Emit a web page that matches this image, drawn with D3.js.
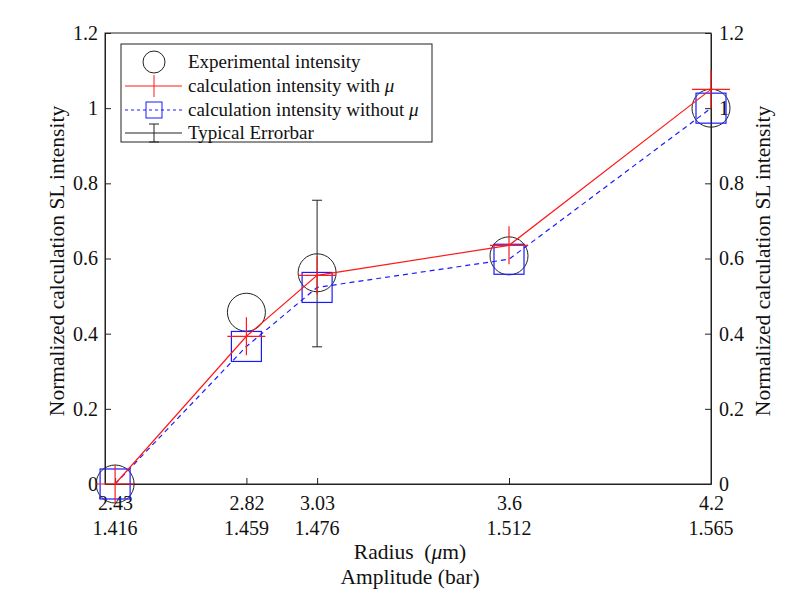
<!DOCTYPE html>
<html><head><meta charset="utf-8">
<script src="https://cdn.jsdelivr.net/npm/d3@7"></script>
<style>body{margin:0;background:#fff}</style>
</head><body><svg id="c" width="809" height="606"></svg>
<script>
const radius = [2.43, 2.82, 3.03, 3.6, 4.2];
const radiusLabels = ["2.43", "2.82", "3.03", "3.6", "4.2"];
const amplitudeLabels = ["1.416", "1.459", "1.476", "1.512", "1.565"];
const experimental = [0, 0.457, 0.562, 0.607, 1.0];
const withMu = [0, 0.393, 0.555, 0.635, 1.05];
const withoutMu = [0, 0.366, 0.523, 0.598, 1.0];
const errX = 3.03, errMid = 0.56, errHalf = 0.195;
const yTicks = [0, 0.2, 0.4, 0.6, 0.8, 1, 1.2];

const svg = d3.select("#c");
const L = 105, R = 711, T = 33, B = 484;
const x = d3.scaleLinear().domain([2.4, 4.2]).range([L, R]);
const y = d3.scaleLinear().domain([0, 1.2]).range([B, T]);
const ax = "#222";
const fs = 20, fsT = 21.5, fsL = 19;
const ff = "Liberation Serif";

// frame
svg.append("rect").attr("x", L).attr("y", T).attr("width", R - L).attr("height", B - T)
  .attr("fill", "none").attr("stroke", ax).attr("stroke-width", 1);

// axes
const fmt = d => d === 0 ? "0" : (d === 1 ? "1" : d3.format(".1f")(d));
const left = svg.append("g").attr("transform", `translate(${L},0)`)
  .call(d3.axisLeft(y).tickValues(yTicks).tickSizeInner(-6).tickSizeOuter(0).tickPadding(7).tickFormat(fmt));
const right = svg.append("g").attr("transform", `translate(${R},0)`)
  .call(d3.axisRight(y).tickValues(yTicks).tickSizeInner(-6).tickSizeOuter(0).tickPadding(8).tickFormat(fmt));
const bottom = svg.append("g").attr("transform", `translate(0,${B})`)
  .call(d3.axisBottom(x).tickValues(radius).tickSizeInner(-6).tickSizeOuter(0).tickPadding(12)
    .tickFormat((d, i) => radiusLabels[i]));
[left, right, bottom].forEach(g => {
  g.attr("font-family", ff).attr("font-size", fs);
  g.select(".domain").attr("stroke", ax);
  g.selectAll(".tick line").attr("stroke", ax);
  g.selectAll("text").attr("font-family", ff).attr("font-size", fs).attr("fill", "#111");
});
// amplitude row
svg.append("g").selectAll("text").data(radius).join("text")
  .attr("x", d => x(d)).attr("y", 535).attr("text-anchor", "middle").attr("font-family", ff)
  .attr("font-size", fs).attr("fill", "#111").text((d, i) => amplitudeLabels[i]);

// axis titles
const t1 = svg.append("text").attr("x", 410).attr("y", 559).attr("text-anchor", "middle").attr("font-family", ff).attr("font-size", fsT).attr("fill", "#111");
t1.append("tspan").text("Radius\u00a0\u00a0(");
t1.append("tspan").attr("font-style", "italic").text("\u03bc");
t1.append("tspan").text("m)");
svg.append("text").attr("x", 410).attr("y", 584).attr("text-anchor", "middle").attr("font-family", ff).attr("font-size", fsT).attr("fill", "#111").text("Amplitude (bar)");
svg.append("text").attr("transform", `translate(64,261) rotate(-90)`).attr("text-anchor", "middle").attr("font-family", ff)
  .attr("font-size", fsT).attr("fill", "#111").text("Normalized calculation SL intensity");
svg.append("text").attr("transform", `translate(770,261) rotate(-90)`).attr("text-anchor", "middle").attr("font-family", ff)
  .attr("font-size", fsT).attr("fill", "#111").text("Normalized calculation SL intensity");

const line = d3.line().x(d => x(d[0])).y(d => y(d[1]));
const red = "#ff1a1a", blue = "#1a1aff";

// experimental circles
svg.append("g").selectAll("circle").data(radius).join("circle")
  .attr("cx", d => x(d)).attr("cy", (d, i) => y(experimental[i])).attr("r", 19)
  .attr("fill", "none").attr("stroke", ax).attr("stroke-width", 1);

// error bar
const eg = svg.append("g").attr("stroke", ax).attr("stroke-width", 1);
eg.append("line").attr("x1", x(errX)).attr("x2", x(errX)).attr("y1", y(errMid - errHalf)).attr("y2", y(errMid + errHalf));
eg.append("line").attr("x1", x(errX) - 5).attr("x2", x(errX) + 5).attr("y1", y(errMid - errHalf)).attr("y2", y(errMid - errHalf));
eg.append("line").attr("x1", x(errX) - 5).attr("x2", x(errX) + 5).attr("y1", y(errMid + errHalf)).attr("y2", y(errMid + errHalf));

// without mu (blue dashed + squares)
svg.append("path").datum(radius.map((d, i) => [d, withoutMu[i]])).attr("d", line)
  .attr("fill", "none").attr("stroke", blue).attr("stroke-width", 1.2).attr("stroke-dasharray", "5,4");
svg.append("g").selectAll("rect").data(radius).join("rect")
  .attr("x", d => x(d) - 15).attr("y", (d, i) => y(withoutMu[i]) - 15).attr("width", 30).attr("height", 30)
  .attr("fill", "none").attr("stroke", blue).attr("stroke-width", 1.2);

// with mu (red + line)
svg.append("path").datum(radius.map((d, i) => [d, withMu[i]])).attr("d", line)
  .attr("fill", "none").attr("stroke", red).attr("stroke-width", 1.2);
const pg = svg.append("g").attr("stroke", red).attr("stroke-width", 1.2);
radius.forEach((d, i) => {
  const cx = x(d), cy = y(withMu[i]);
  pg.append("line").attr("x1", cx - 19).attr("x2", cx + 19).attr("y1", cy).attr("y2", cy);
  pg.append("line").attr("x1", cx).attr("x2", cx).attr("y1", cy - 19).attr("y2", cy + 19);
});

// legend
const lg = svg.append("g");
lg.append("rect").attr("x", 121).attr("y", 44).attr("width", 311).attr("height", 98)
  .attr("fill", "#fff").attr("stroke", ax).attr("stroke-width", 1);
const ly = [62, 86, 110, 133];
const sx1 = 125, sx2 = 182, mx = 154, tx = 188;
lg.append("circle").attr("cx", mx).attr("cy", ly[0]).attr("r", 11).attr("fill", "none").attr("stroke", ax);
lg.append("line").attr("x1", sx1).attr("x2", sx2).attr("y1", ly[1]).attr("y2", ly[1]).attr("stroke", red);
lg.append("line").attr("x1", mx).attr("x2", mx).attr("y1", ly[1] - 11).attr("y2", ly[1] + 11).attr("stroke", red);
lg.append("line").attr("x1", sx1).attr("x2", sx2).attr("y1", ly[2]).attr("y2", ly[2]).attr("stroke", blue).attr("stroke-dasharray", "3,3");
lg.append("rect").attr("x", mx - 8).attr("y", ly[2] - 8).attr("width", 16).attr("height", 16).attr("fill", "none").attr("stroke", blue);
lg.append("line").attr("x1", sx1).attr("x2", sx2).attr("y1", ly[3]).attr("y2", ly[3]).attr("stroke", ax);
lg.append("line").attr("x1", mx).attr("x2", mx).attr("y1", ly[3] - 9).attr("y2", ly[3] + 9).attr("stroke", ax);
lg.append("line").attr("x1", mx - 5).attr("x2", mx + 5).attr("y1", ly[3] - 9).attr("y2", ly[3] - 9).attr("stroke", ax);
lg.append("line").attr("x1", mx - 5).attr("x2", mx + 5).attr("y1", ly[3] + 9).attr("y2", ly[3] + 9).attr("stroke", ax);
const labels = [["Experimental intensity", ""], ["calculation intensity with ", "\u03bc"], ["calculation intensity without ", "\u03bc"], ["Typical Errorbar", ""]];
labels.forEach((l, i) => {
  const t = lg.append("text").attr("x", tx).attr("y", ly[i] + 6).attr("font-family", ff).attr("font-size", fsL).attr("fill", "#111");
  t.append("tspan").text(l[0]);
  if (l[1]) t.append("tspan").attr("font-style", "italic").text(l[1]);
});
</script></body></html>
